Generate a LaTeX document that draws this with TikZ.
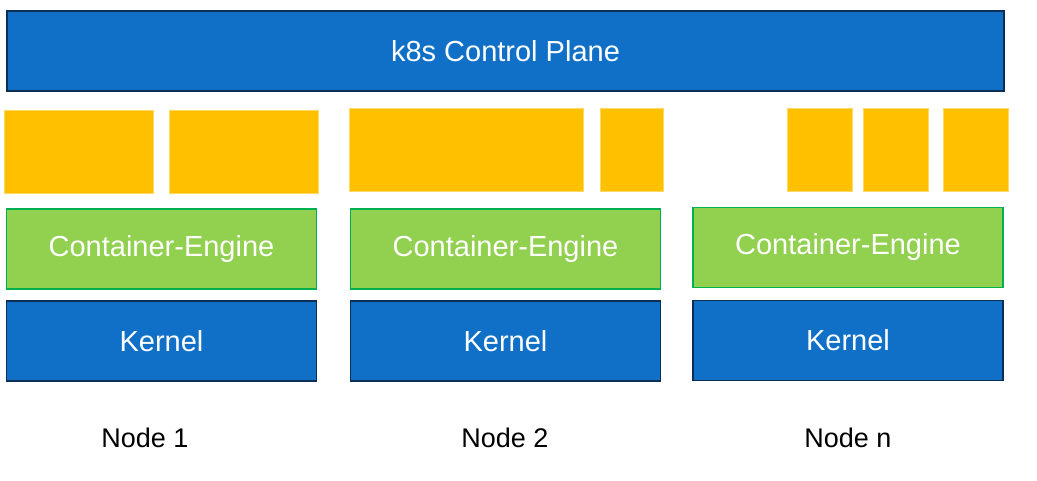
\documentclass[tikz,border=0pt]{standalone}
\usepackage{fontspec}
\setmainfont{Liberation Sans}
\definecolor{planeblue}{HTML}{1070C8}
\definecolor{planeedge}{HTML}{0C2E52}
\definecolor{podyellow}{HTML}{FFC000}
\definecolor{enginegreen}{HTML}{92D050}
\definecolor{engineedge}{HTML}{00B050}
\begin{document}
\begin{tikzpicture}[x=1pt, y=-1pt,
    bluebox/.style={draw=planeedge, fill=planeblue, line width=1.6pt, text=white, font=\fontsize{29}{34}\selectfont, inner sep=0pt, minimum height=80},
    enginebox/.style={draw=engineedge, fill=enginegreen, line width=1.6pt, text=white, font=\fontsize{29}{34}\selectfont, inner sep=0pt, minimum height=80, minimum width=310},
    podbox/.style={fill=podyellow, draw=podyellow!60, line width=0.5pt, inner sep=0pt, minimum height=83},
    nodelabel/.style={font=\fontsize{27}{32}\selectfont}]
      \useasboundingbox (0, 0) rectangle (1037, 481);
      % Control plane
      \node[bluebox, minimum width=997] (plane) at (505.5, 51) {k8s Control Plane};
      % Pods
      \node[podbox, minimum width=149] (pod11) at (78.5, 152) {};
      \node[podbox, minimum width=149] (pod12) at (243.5, 152) {};
      \node[podbox, minimum width=234] (pod21) at (466, 149.5) {};
      \node[podbox, minimum width=63] (pod22) at (631.5, 149.5) {};
      \node[podbox, minimum width=65] (podn1) at (819.5, 150) {};
      \node[podbox, minimum width=65] (podn2) at (895.5, 150) {};
      \node[podbox, minimum width=65] (podn3) at (975.5, 150) {};
      % Container engines
      \node[enginebox] (engine1) at (161.5, 249) {Container-Engine};
      \node[enginebox] (engine2) at (505.5, 249) {Container-Engine};
      \node[enginebox] (enginen) at (848, 247.5) {Container-Engine};
      % Kernels
      \node[bluebox, minimum width=310] (kernel1) at (161.5, 341) {Kernel};
      \node[bluebox, minimum width=310] (kernel2) at (505.5, 341) {Kernel};
      \node[bluebox, minimum width=310] (kerneln) at (848, 340.5) {Kernel};
      % Node names
      \node[nodelabel] (name1) at (145, 438) {Node 1};
      \node[nodelabel] (name2) at (505, 438) {Node 2};
      \node[nodelabel] (namen) at (848, 438) {Node n};
    \end{tikzpicture}
\end{document}
